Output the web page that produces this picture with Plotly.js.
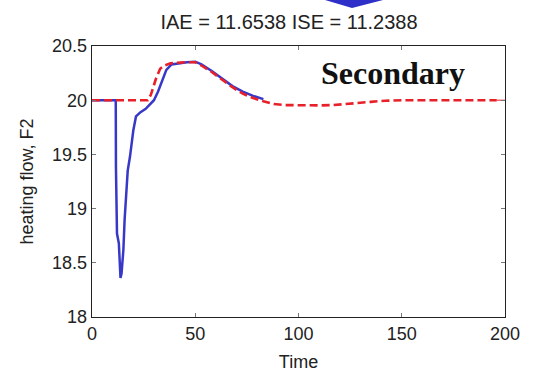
<!DOCTYPE html>
<html>
<head>
<meta charset="utf-8">
<script src="https://cdn.plot.ly/plotly-3.0.1.min.js"></script>
<style>html,body{margin:0;padding:0;background:#fff;}#chart{width:533px;height:372px;}</style>
</head>
<body>
<div id="chart"></div>
<script>
// Blue: measured heating flow F2
const blueTime = [0, 11.5, 11.6, 12.1, 13.0, 13.8, 14.3, 15.2, 15.8, 16.5, 17.3, 18.4, 19.2, 20.0, 21.3, 23.5, 26, 28, 30, 32, 33.7, 36, 38.5, 42, 46, 50, 53, 58, 63, 68, 73, 78, 83];
const blueFlow = [20, 20, 19.38, 18.77, 18.68, 18.36, 18.40, 18.62, 18.90, 19.17, 19.35, 19.48, 19.60, 19.72, 19.85, 19.89, 19.92, 19.96, 20.0, 20.08, 20.16, 20.28, 20.33, 20.34, 20.35, 20.355, 20.33, 20.27, 20.20, 20.13, 20.08, 20.04, 20.01];
// Red dashed: secondary setpoint
const redTime = [0, 27, 28.5, 31, 33, 35, 38, 45, 50, 53, 58, 63, 68, 73, 78, 83, 88, 93, 100, 110, 117, 122, 128, 135, 142, 150, 170, 196];
const redFlow = [20, 20, 20.05, 20.2, 20.29, 20.32, 20.34, 20.35, 20.35, 20.32, 20.26, 20.19, 20.12, 20.06, 20.02, 19.99, 19.965, 19.955, 19.952, 19.952, 19.955, 19.965, 19.975, 19.985, 19.995, 20.0, 20.0, 20.0];
const tailTime = [196, 200];
const tailFlow = [20, 20];
const xTicks = [0, 50, 100, 150, 200];
const yTicks = [18, 18.5, 19, 19.5, 20, 20.5];
const titleText = 'IAE = 11.6538 ISE = 11.2388';

const font = 'Arial, "Liberation Sans", sans-serif';
const traces = [
  {x: tailTime, y: tailFlow, mode: 'lines', line: {color: '#e8202a', width: 1}, hoverinfo: 'skip'},
  {x: blueTime, y: blueFlow, mode: 'lines', line: {color: '#3838c8', width: 2.5}},
  {x: redTime, y: redFlow, mode: 'lines', line: {color: '#e8202a', width: 2.6, dash: '8px,4px'}}
];
const axisCommon = {
  showgrid: false, zeroline: false, showline: true, linecolor: '#222', linewidth: 1.3,
  mirror: 'ticks', ticks: 'inside', ticklen: 4, tickcolor: '#777', tickwidth: 1,
  tickfont: {family: font, size: 18, color: '#222'}
};
const layout = {
  width: 533, height: 372,
  margin: {l: 92, r: 28, t: 46, b: 55},
  paper_bgcolor: '#fff', plot_bgcolor: '#fff',
  showlegend: false,
  title: {text: titleText, font: {family: font, size: 20, color: '#222'}, x: 289/533, xref: 'container', xanchor: 'center', y: 1 - 22/372, yref: 'container', yanchor: 'middle'},
  xaxis: Object.assign({}, axisCommon, {range: [0, 200], tickvals: xTicks, ticktext: xTicks.map(String),
    title: {text: 'Time', font: {family: font, size: 18, color: '#222'}, standoff: 12}}),
  yaxis: Object.assign({}, axisCommon, {range: [18, 20.5], tickvals: yTicks, ticktext: yTicks.map(v => String(v)),
    title: {text: 'heating flow, F2', font: {family: font, size: 18, color: '#222'}, standoff: 13}}),
  annotations: [{text: '<b>Secondary</b>', xref: 'paper', yref: 'paper', x: (393-92)/413, y: (317-73)/271, xanchor: 'center', yanchor: 'middle', showarrow: false,
    font: {family: '"Liberation Serif", "Times New Roman", serif', size: 32, color: '#111'}}],
  shapes: [{type: 'path', xref: 'paper', yref: 'paper', path: 'M 0.5642 1.19 L 0.5642 1.1697 L 0.6295 1.1402 L 0.7046 1.1697 L 0.7046 1.19 Z',
    fillcolor: '#2e2ec8', line: {width: 0}}]
};
Plotly.newPlot('chart', traces, layout, {displayModeBar: false, staticPlot: true});
</script>
</body>
</html>
